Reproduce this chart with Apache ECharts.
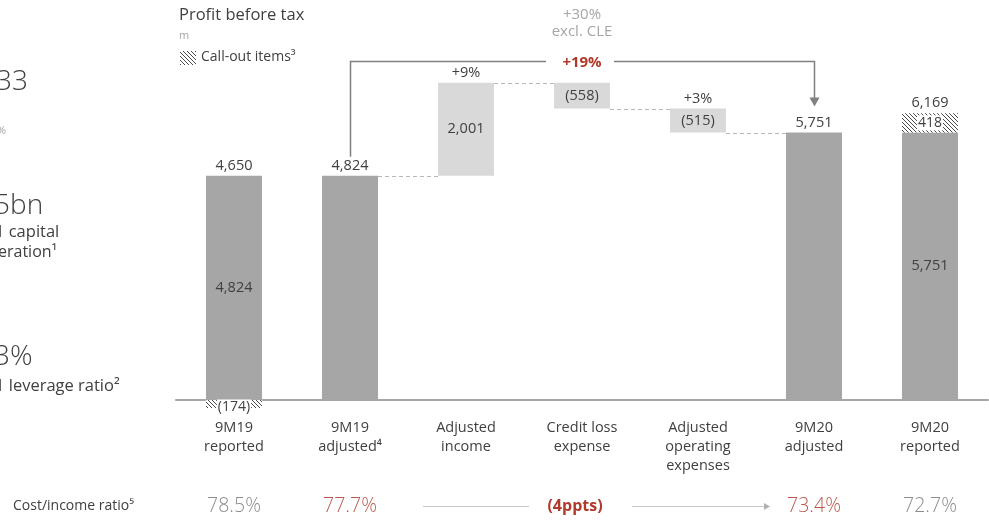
<!DOCTYPE html>
<html>
<head>
<meta charset="utf-8">
<script src="https://cdn.jsdelivr.net/npm/echarts@6/dist/echarts.min.js"></script>
<style>
  html, body { margin: 0; padding: 0; background: #fff; }
  #chart { width: 989px; height: 520px; }
</style>
</head>
<body>
<div id="chart"></div>
<script>
// Profit before tax bridge, USD m
const categories = ['9M19\nreported', '9M19\nadjusted⁴', 'Adjusted\nincome', 'Credit loss\nexpense', 'Adjusted\noperating\nexpenses', '9M20\nadjusted', '9M20\nreported'];
const adjustedPbt = [4824, 4824, null, null, null, 5751, 5751];
const callOuts = [-174, null, null, null, null, null, 418];
const drivers = [null, null, 2001, -558, -515, null, null];
const driverPct = ['', '', '+9%', '', '+3%', '', ''];
const pbtGrowth = '+19%';
const pbtGrowthExCle = ['+30%', 'excl. CLE'];
const costIncomeLabel = 'Cost/income ratio⁵';
const costIncome = ['78.5%', '77.7%', '', '(4ppts)', '', '73.4%', '72.7%'];

// styling
const FONT = '"Open Sans", "Noto Sans", sans-serif';
const TXT = '#404040';
const DARK_BAR = '#a6a6a6';
const LIGHT_BAR = '#d9d9d9';
const RED = '#b0392b';
const RED_SOFT = '#b85a4c';
const GREY_TXT = '#8c8c8c';
const LBL = 14.5;
const BAR_W = 56;
const bracketLevel = 7300;
const ratioY = 506;
const highlightRatio = [1, 3, 5];

function fmt(v) { return Math.abs(v).toLocaleString('en-US'); }
function fmtSigned(v) { return v < 0 ? '(' + fmt(v) + ')' : fmt(v); }

// diagonal hatch used for call-out items
function hatchCanvas() {
  const c = document.createElement('canvas');
  c.width = 4; c.height = 4;
  const g = c.getContext('2d');
  g.fillStyle = '#fff'; g.fillRect(0, 0, 4, 4);
  g.strokeStyle = '#4a4a4a'; g.lineWidth = 1;
  g.beginPath();
  g.moveTo(-1, -1); g.lineTo(5, 5);
  g.moveTo(-1, 3); g.lineTo(1, 5);
  g.moveTo(3, -1); g.lineTo(5, 1);
  g.stroke();
  return c;
}
const hatch = { image: hatchCanvas(), repeat: 'repeat' };

// waterfall: invisible base + floating step, and running level after each column
const base = [], step = [], level = [];
let running = 0;
categories.forEach((c, i) => {
  if (adjustedPbt[i] != null) {
    running = adjustedPbt[i];
    base.push(null); step.push(null);
  } else {
    const d = drivers[i];
    base.push(d >= 0 ? running : running + d);
    step.push(Math.abs(d));
    running += d;
  }
  level.push(running);
});
const firstDriver = drivers.findIndex(d => d != null);
let lastDriver = -1;
drivers.forEach((d, i) => { if (d != null) lastDriver = i; });
const growthFrom = firstDriver - 1;
const growthTo = lastDriver + 1;
const cleIdx = drivers.indexOf(-558);

function annotate(params, api) {
  const ch = [];
  const X = i => api.coord([i, 0])[0];
  const Y = v => api.coord([0, v])[1];
  const half = BAR_W / 2;
  const text = (t, x, y, st) => ch.push({
    type: 'text',
    style: Object.assign({ text: t, x: x, y: y, align: 'center', verticalAlign: 'middle',
      fill: TXT, fontSize: LBL, fontFamily: FONT }, st || {})
  });
  const line = (x1, y1, x2, y2, st) => ch.push({
    type: 'line', shape: { x1: x1, y1: y1, x2: x2, y2: y2 },
    style: Object.assign({ stroke: '#808080', lineWidth: 1.5, fill: 'none' }, st || {})
  });

  // totals above the PBT columns
  categories.forEach((c, i) => {
    if (adjustedPbt[i] == null) return;
    const co = callOuts[i] || 0;
    const total = adjustedPbt[i] + co;
    const top = Math.max(adjustedPbt[i], total);
    text(fmt(total), X(i), Y(top) - 10);
  });
  // percentage change above drivers
  categories.forEach((c, i) => {
    if (!driverPct[i]) return;
    text(driverPct[i], X(i), Y(base[i] + step[i]) - 10);
  });
  // dashed connectors
  for (let i = 0; i < categories.length - 1; i++) {
    if (drivers[i] == null && drivers[i + 1] == null) continue;
    const y = Math.round(Y(level[i])) + 0.5;
    line(X(i) + half, y, X(i + 1) - half, y, { stroke: '#b8b8b8', lineWidth: 1, lineDash: [4, 3] });
  }
  // growth bracket with arrow
  const yB = Math.round(Y(bracketLevel)) + 0.5;
  const x1 = Math.round(X(growthFrom)) + 0.5;
  const x2 = Math.round(X(growthTo)) + 0.5;
  const xc = X(cleIdx);
  const tip = Y(adjustedPbt[growthTo]) - 26;
  ch.push({ type: 'polyline', shape: { points: [[x1, Y(adjustedPbt[growthFrom]) - 19], [x1, yB], [xc - 36, yB]] },
    style: { stroke: '#808080', lineWidth: 1.5, fill: 'none' } });
  ch.push({ type: 'polyline', shape: { points: [[xc + 32, yB], [x2, yB], [x2, tip - 8]] },
    style: { stroke: '#808080', lineWidth: 1.5, fill: 'none' } });
  ch.push({ type: 'polygon', shape: { points: [[x2 - 5, tip - 9], [x2 + 5, tip - 9], [x2, tip]] },
    style: { fill: '#808080' } });
  text(pbtGrowth, xc, yB + 1, { fill: RED, fontWeight: 'bold', fontSize: 15 });
  text(pbtGrowthExCle[0], xc, yB - 47, { fill: '#a6a6a6', fontSize: 15 });
  text(pbtGrowthExCle[1], xc, yB - 30, { fill: '#a6a6a6', fontSize: 15 });

  // cost / income ratio row
  costIncome.forEach((t, i) => {
    if (!t) return;
    const hi = highlightRatio.indexOf(i) >= 0;
    if (i === cleIdx) {
      text(t, X(i) - 7, ratioY, { fill: RED, fontWeight: 'bold', fontSize: 16 });
    } else {
      text(t, X(i), ratioY, { fill: hi ? RED_SOFT : GREY_TXT, fontSize: 19.5, fontWeight: 300 });
    }
  });
  const ry = ratioY + 0.5;
  line(X(growthFrom) + 73, ry, X(cleIdx) - 53, ry, { stroke: '#c8c8c8', lineWidth: 1 });
  line(X(cleIdx) + 50, ry, X(growthTo) - 50, ry, { stroke: '#c8c8c8', lineWidth: 1 });
  ch.push({ type: 'polygon', shape: { points: [[X(growthTo) - 50, ry - 3.5], [X(growthTo) - 50, ry + 3.5], [X(growthTo) - 44, ry]] },
    style: { fill: '#b0b0b0' } });

  return { type: 'group', children: ch };
}

// negative call-out label sits just under the axis line
const callOutData = callOuts.map(v => v != null && v < 0 ? { value: v, label: { offset: [0, 3] } } : v);

const chart = echarts.init(document.getElementById('chart'), null, { renderer: 'canvas' });
chart.setOption({
  animation: false,
  backgroundColor: '#fff',
  grid: { left: 176, right: 1, top: 28, bottom: 120 },
  xAxis: {
    type: 'category',
    data: categories,
    axisLine: { lineStyle: { color: '#a6a6a6', width: 2 } },
    axisTick: { show: false },
    axisLabel: { color: TXT, fontSize: LBL, lineHeight: 19, margin: 18, interval: 0, fontFamily: FONT }
  },
  yAxis: { type: 'value', min: 0, max: 8000, show: false },
  graphic: [
    { type: 'text', left: 179, top: 7, style: { text: 'Profit before tax', fill: TXT, fontSize: 16.5, fontFamily: FONT } },
    { type: 'text', left: 179, top: 30, style: { text: 'm', fill: '#a6a6a6', fontSize: 11, fontFamily: FONT } },
    { type: 'rect', shape: { x: 180, y: 51, width: 16, height: 14 }, style: { fill: hatch } },
    { type: 'text', left: 201, top: 50, style: { text: 'Call-out items³', fill: TXT, fontSize: 14, fontFamily: FONT } },
    // key figures column
    { type: 'text', x: -4, y: 82, style: { text: '33', fill: TXT, fontSize: 28, fontWeight: 300, fontFamily: FONT, verticalAlign: 'middle' } },
    { type: 'text', x: -3, y: 131, style: { text: '%', fill: '#a6a6a6', fontSize: 11, fontFamily: FONT, verticalAlign: 'middle' } },
    { type: 'text', x: -6, y: 206, style: { text: '5bn', fill: TXT, fontSize: 28, fontWeight: 300, fontFamily: FONT, verticalAlign: 'middle' } },
    { type: 'text', x: -5, y: 232, style: { text: '1 capital', fill: TXT, fontSize: 16.5, fontFamily: FONT, verticalAlign: 'middle' } },
    { type: 'text', x: -2, y: 252, style: { text: 'eration¹', fill: TXT, fontSize: 16, fontFamily: FONT, verticalAlign: 'middle' } },
    { type: 'text', x: -6, y: 357, style: { text: '3%', fill: TXT, fontSize: 28, fontWeight: 300, fontFamily: FONT, verticalAlign: 'middle' } },
    { type: 'text', x: -5, y: 386, style: { text: '1 leverage ratio²', fill: TXT, fontSize: 16.5, fontFamily: FONT, verticalAlign: 'middle' } },
    { type: 'text', x: 13, y: ratioY, style: { text: costIncomeLabel, fill: TXT, fontSize: 14, fontFamily: FONT, verticalAlign: 'middle' } }
  ],
  series: [
    { name: 'base', type: 'bar', stack: 'pbt', barWidth: BAR_W, data: base, clip: false,
      itemStyle: { color: 'transparent' }, silent: true },
    { name: 'drivers', type: 'bar', stack: 'pbt', barWidth: BAR_W, data: step, clip: false,
      itemStyle: { color: LIGHT_BAR },
      label: { show: true, position: 'inside', color: TXT, fontSize: LBL, fontFamily: FONT,
        formatter: p => fmtSigned(drivers[p.dataIndex]) } },
    { name: 'adjusted', type: 'bar', stack: 'pbt', barWidth: BAR_W, data: adjustedPbt, clip: false,
      itemStyle: { color: DARK_BAR },
      label: { show: true, position: 'inside', color: TXT, fontSize: LBL, fontFamily: FONT,
        formatter: p => callOuts[p.dataIndex] != null ? fmt(p.value) : '' } },
    { name: 'callouts', type: 'bar', stack: 'pbt', barWidth: BAR_W, data: callOutData, clip: false,
      itemStyle: { color: hatch },
      label: { show: true, position: 'inside', color: TXT, fontSize: LBL - 0.5, fontFamily: FONT,
        backgroundColor: '#fff', padding: [0, 1], lineHeight: 15,
        formatter: p => fmtSigned(p.value) } },
    { name: 'notes', type: 'custom', data: [[0, 0]], renderItem: annotate, silent: true, clip: false, z: 10 }
  ]
});
</script>
</body>
</html>
